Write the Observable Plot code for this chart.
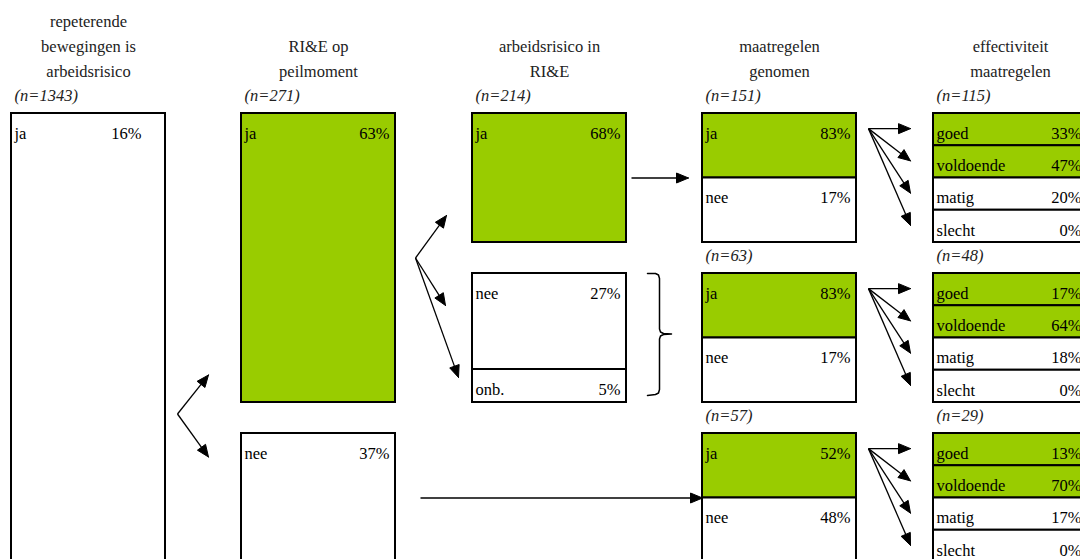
<!DOCTYPE html>
<html><head><meta charset="utf-8">
<script src="https://cdn.jsdelivr.net/npm/d3@7"></script>
<script src="https://cdn.jsdelivr.net/npm/@observablehq/plot@0.6"></script>
<style>body{margin:0;background:#fff;} #chart svg{display:block}</style>
</head><body><div id="chart"></div>
<script>
// ---------- data ----------
const columnTitles = [
  ["repeterende", "bewegingen is", "arbeidsrisico"],
  ["RI&E op", "peilmoment"],
  ["arbeidsrisico in", "RI&E"],
  ["maatregelen", "genomen"],
  ["effectiviteit", "maatregelen"]
];
const nRepeterend = [1343];
const nRIE = [271];
const nRisico = [214];
const nMaatregelen = [151, 63, 57];
const nEffect = [115, 48, 29];

const repCat = ["ja"];
const repVal = [16];
const rieCat = ["ja", "nee"];
const rieVal = [63, 37];
const risicoCat = ["ja", "nee", "onb."];
const risicoVal = [68, 27, 5];
const maatCat = ["ja", "nee"];
const maatVal = [[83, 17], [83, 17], [52, 48]];
const effCat = ["goed", "voldoende", "matig", "slecht"];
const effVal = [[33, 47, 20, 0], [17, 64, 18, 0], [13, 70, 17, 0]];

// ---------- layout ----------
const GREEN = "#99cc00";
const FONT = "Liberation Serif";
const L = {colX: [11, 241, 472, 702, 933], w: 154, bandTop: [113, 273, 433], bandH: 129, bottom: 582};
const right = i => L.colX[i] + L.w;
const bandBottom = b => L.bandTop[b] + L.bandH;

const cells = [];
function cell(col, y1, y2, label, pct, fill, pctInset = 6) {
  cells.push({x1: L.colX[col], x2: right(col), y1, y2, label, pct, fill, pctInset});
}
// column 1
cell(0, L.bandTop[0], L.bottom, repCat[0], repVal[0], "white", 24);
// column 2
cell(1, L.bandTop[0], bandBottom(1), rieCat[0], rieVal[0], GREEN);
cell(1, L.bandTop[2], L.bottom, rieCat[1], rieVal[1], "white");
// column 3
cell(2, L.bandTop[0], bandBottom(0), risicoCat[0], risicoVal[0], GREEN);
cell(2, L.bandTop[1], bandBottom(1) - 33, risicoCat[1], risicoVal[1], "white");
cell(2, bandBottom(1) - 33, bandBottom(1), risicoCat[2], risicoVal[2], "white");
// column 4
maatVal.forEach((vals, b) => {
  const top = L.bandTop[b], half = L.bandH / 2;
  cell(3, top, top + half, maatCat[0], vals[0], GREEN);
  cell(3, top + half, b === 2 ? L.bottom : top + L.bandH, maatCat[1], vals[1], "white");
});
// column 5
const rowH = L.bandH / 4;
effVal.forEach((vals, b) => {
  vals.forEach((v, r) => {
    const top = L.bandTop[b] + r * rowH;
    cell(4, top, top + rowH, effCat[r], v, r < 2 ? GREEN : "white");
  });
});

// titles
const titleLines = [];
columnTitles.forEach((lines, c) => {
  lines.forEach((t, i) => titleLines.push({x: L.colX[c] + L.w / 2, y: 71 - (lines.length - 1 - i) * 25, text: t}));
});
// n labels
const nLabels = [];
const nCols = [nRepeterend, nRIE, nRisico, nMaatregelen, nEffect];
nCols.forEach((arr, c) => arr.forEach((n, b) => nLabels.push({x: L.colX[c] + 3, y: L.bandTop[b] - 18, text: `(n=${n})`})));

// arrows
const arrows = [];
const g12 = (bandBottom(1) + L.bandTop[2]) / 2 - 4;
arrows.push({x1: right(0) + 12, y1: g12, x2: L.colX[1] - 33, y2: g12 - 39});
arrows.push({x1: right(0) + 12, y1: g12, x2: L.colX[1] - 33, y2: g12 + 43});
const g01 = (bandBottom(0) + L.bandTop[1]) / 2;
const ox = L.colX[2] - 57;
arrows.push({x1: ox, y1: g01, x2: L.colX[2] - 26, y2: bandBottom(0) - 27});
arrows.push({x1: ox, y1: g01, x2: L.colX[2] - 27, y2: L.bandTop[1] + 32});
arrows.push({x1: ox, y1: g01, x2: L.colX[2] - 14, y2: bandBottom(1) - 25});
arrows.push({x1: right(2) + 5, y1: L.bandTop[0] + L.bandH / 2, x2: L.colX[3] - 14, y2: L.bandTop[0] + L.bandH / 2});
arrows.push({x1: right(1) + 25, y1: L.bandTop[2] + L.bandH / 2, x2: L.colX[3], y2: L.bandTop[2] + L.bandH / 2});
L.bandTop.forEach(top => {
  const oy = top + rowH / 2 - 1;
  for (let r = 0; r < 4; r++) {
    arrows.push({x1: right(3) + 12, y1: oy, x2: L.colX[4] - 23, y2: top + rowH * (r + 0.5) - 1});
  }
});
const HEAD = 12, HW = 5;
const shafts = [], heads = [];
arrows.forEach((a, i) => {
  const dx = a.x2 - a.x1, dy = a.y2 - a.y1, len = Math.hypot(dx, dy);
  const ux = dx / len, uy = dy / len, px = -uy, py = ux;
  const bx = a.x2 - ux * HEAD, by = a.y2 - uy * HEAD;
  shafts.push({x1: a.x1, y1: a.y1, x2: bx + ux, y2: by + uy});
  heads.push({id: i, x: a.x2, y: a.y2});
  heads.push({id: i, x: bx + px * HW, y: by + py * HW});
  heads.push({id: i, x: bx - px * HW, y: by - py * HW});
  heads.push({id: i, x: a.x2, y: a.y2});
});

// brace
const bx0 = right(2) + 21, bxv = right(2) + 33, bxt = right(2) + 45;
const byt = L.bandTop[1], byb = bandBottom(1) - 8, bym = (byt + byb) / 2;
const brace = [
  {x: bx0, y: byt}, {x: bxv - 4, y: byt}, {x: bxv - 1, y: byt + 1.5}, {x: bxv, y: byt + 5},
  {x: bxv, y: bym - 5}, {x: bxv + 1, y: bym - 2}, {x: bxv + 4, y: bym - 0.5}, {x: bxt, y: bym},
  {x: bxv + 4, y: bym + 0.5}, {x: bxv + 1, y: bym + 2}, {x: bxv, y: bym + 5},
  {x: bxv, y: byb - 5}, {x: bxv - 1, y: byb - 1.5}, {x: bxv - 4, y: byb}, {x: bx0, y: byb + 1}
];

const FS = 16.5;
const chart = Plot.plot({
  width: 1080, height: 559, margin: 0,
  x: {domain: [0, 1080], range: [0, 1080], axis: null},
  y: {domain: [0, 559], range: [0, 559], axis: null},
  style: {fontFamily: FONT, background: "white", color: "black"},
  marks: [
    Plot.rect(cells, {x1: "x1", x2: "x2", y1: "y1", y2: "y2", fill: "fill", stroke: "black", strokeWidth: 2}),
    Plot.text(cells, {x: d => d.x1 + 3, y: d => d.y1 + 20, text: "label", textAnchor: "start", fontSize: FS, fontFamily: FONT, fill: "black"}),
    Plot.text(cells, {x: d => d.x2 - d.pctInset, y: d => d.y1 + 20, text: d => d.pct + "%", textAnchor: "end", fontSize: FS, fontFamily: FONT, fill: "black"}),
    Plot.text(titleLines, {x: "x", y: "y", text: "text", textAnchor: "middle", fontSize: FS, fontFamily: FONT, fill: "#222"}),
    Plot.text(nLabels, {x: "x", y: "y", text: "text", textAnchor: "start", fontStyle: "italic", fontSize: FS, fontFamily: FONT, fill: "#222"}),
    Plot.link(shafts, {x1: "x1", y1: "y1", x2: "x2", y2: "y2", stroke: "black", strokeWidth: 1.3}),
    Plot.line(heads, {x: "x", y: "y", z: "id", fill: "black", stroke: "black", strokeWidth: 1, strokeLinejoin: "miter"}),
    Plot.line(brace, {x: "x", y: "y", stroke: "black", strokeWidth: 1.5})
  ]
});
document.getElementById("chart").appendChild(chart);
</script>
</body></html>
